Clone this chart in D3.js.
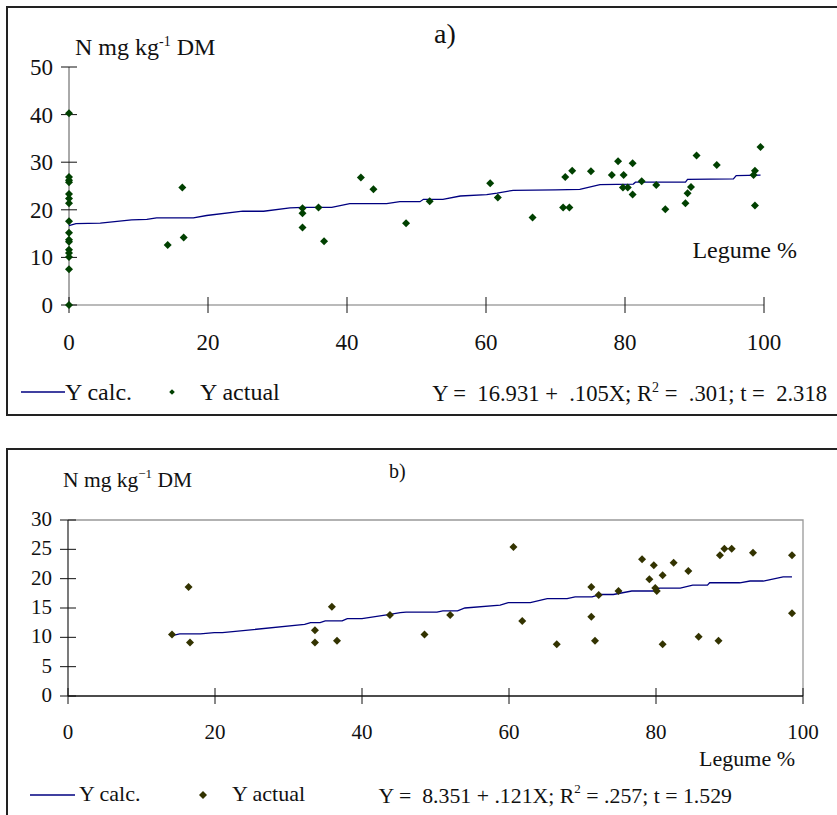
<!DOCTYPE html>
<html>
<head>
<meta charset="utf-8">
<script src="https://cdn.jsdelivr.net/npm/d3@7"></script>
<style>
  body { margin: 0; background: #fff; }
  text { font-family: "Liberation Serif", "Times New Roman", serif; fill: #111; white-space: pre; }
</style>
</head>
<body>
<div id="chart"></div>
<script>
// panel a) data: legume % vs N
const a_x = [0,0,0,0,0,0,0,0,0,0,0,0,0,0,0,0,
  14.2,16.3,16.5,33.6,33.6,33.6,35.9,36.7,42.0,43.8,48.5,51.9,60.6,61.7,66.7,
  71.1,71.4,72.0,72.4,75.1,78.1,79.0,79.7,79.8,80.4,81.1,81.1,82.4,84.5,85.8,
  88.7,89.0,89.5,90.3,93.2,98.5,98.7,98.7,99.5];
const a_y = [40.3,26.9,26.2,25.8,23.3,22.4,21.4,17.6,15.2,13.7,13.3,11.6,10.9,10.1,7.5,0,
  12.6,24.7,14.2,20.3,19.3,16.3,20.5,13.4,26.8,24.3,17.2,21.8,25.6,22.6,18.4,
  20.5,26.9,20.5,28.2,28.1,27.3,30.2,24.7,27.3,24.7,29.8,23.2,26.0,25.2,20.1,
  21.4,23.5,24.8,31.4,29.4,27.3,28.2,20.9,33.2];
const a_calc_x = [0,1,4.5,9,11.2,12.6,17.9,19.8,25,28,31.8,33.7,37.8,40.4,45.7,47.6,50.5,51,53.8,
  56.3,60.1,61.6,63.9,70,73.5,76.4,81.2,81.5,88.7,89,95.6,96,99.5];
const a_calc_y = [16.7,17.1,17.2,17.9,18.0,18.3,18.3,18.8,19.7,19.7,20.4,20.5,20.5,21.3,21.3,21.7,21.7,22.2,22.2,
  22.9,23.2,23.5,24.1,24.2,24.3,25.3,25.4,25.8,25.8,26.4,26.5,27.2,27.3];
const a_yticks = [0,10,20,30,40,50];
const a_xticks = [0,20,40,60,80,100];

// panel b) data
const b_x = [14.15,16.4,16.6,33.6,33.6,35.9,36.6,43.8,48.5,52.0,60.6,61.8,66.5,71.2,71.2,71.7,72.2,74.9,
  78.1,79.1,79.7,79.9,80.1,80.9,80.9,82.4,84.4,85.8,88.5,88.7,89.3,90.3,93.2,98.5,98.5];
const b_y = [10.5,18.6,9.1,11.2,9.1,15.2,9.4,13.8,10.5,13.8,25.4,12.8,8.8,18.6,13.5,9.4,17.2,17.9,
  23.3,19.9,22.3,18.4,17.9,20.6,8.8,22.7,21.3,10.1,9.4,24.0,25.1,25.1,24.4,24.0,14.1];
const b_calc_x = [14.15,15.2,18,19.9,21,32.2,33,34.3,35,37.3,38,40,43.8,45.2,46,50.2,51,53,54,58.8,59.9,62.9,
  65.2,67.9,69,71.3,72.4,74.2,76.7,79.6,80.5,83.3,85,87,87.3,91.4,92.8,94.6,97.3,98.5];
const b_calc_y = [10.3,10.6,10.6,10.8,10.8,12.2,12.5,12.5,12.8,12.8,13.2,13.2,13.9,14.2,14.3,14.3,14.5,14.5,15.0,15.5,15.9,15.9,
  16.6,16.6,16.9,16.9,17.3,17.3,17.9,17.9,18.4,18.4,18.9,18.9,19.3,19.3,19.6,19.6,20.3,20.3];
const b_yticks = [0,5,10,15,20,25,30];
const b_xticks = [0,20,40,60,80,100];

const svg = d3.select("#chart").append("svg")
  .attr("width", 837).attr("height", 815);

const lineColor = "#000080";
const diamond = d3.symbol().type(d3.symbolSquare).size(32);
const diamondSmall = d3.symbol().type(d3.symbolSquare).size(16);

// outer frames
svg.append("rect").attr("x", 7).attr("y", 7).attr("width", 850).attr("height", 408)
  .attr("fill", "none").attr("stroke", "#222").attr("stroke-width", 2);
svg.append("rect").attr("x", 7).attr("y", 449).attr("width", 850).attr("height", 420)
  .attr("fill", "none").attr("stroke", "#222").attr("stroke-width", 2);

// ---------- panel a ----------
const xa = d3.scaleLinear().domain([0, 100]).range([69, 764]);
const ya = d3.scaleLinear().domain([0, 50]).range([305, 67]);
const ga = svg.append("g");

ga.append("line").attr("x1", xa(0)).attr("x2", xa(0)).attr("y1", ya(0)).attr("y2", ya(50))
  .attr("stroke", "#555").attr("stroke-width", 1);
ga.append("line").attr("x1", xa(0)).attr("x2", xa(100)).attr("y1", ya(0)).attr("y2", ya(0))
  .attr("stroke", "#777").attr("stroke-width", 1.2);

ga.selectAll(".yt").data(a_yticks).enter().append("line")
  .attr("x1", xa(0) - 8).attr("x2", xa(0) + 8)
  .attr("y1", d => ya(d)).attr("y2", d => ya(d)).attr("stroke", "#111");
ga.selectAll(".ytl").data(a_yticks).enter().append("text")
  .attr("x", 53).attr("y", d => ya(d) + 8).attr("text-anchor", "end")
  .attr("font-size", 23).text(d => d);
ga.selectAll(".xt").data(a_xticks).enter().append("line")
  .attr("x1", d => xa(d)).attr("x2", d => xa(d))
  .attr("y1", ya(0) - 8).attr("y2", ya(0) + 8).attr("stroke", "#111");
ga.selectAll(".xtl").data(a_xticks).enter().append("text")
  .attr("x", d => xa(d)).attr("y", 350).attr("text-anchor", "middle")
  .attr("font-size", 23).text(d => d);

ga.append("path")
  .datum(a_calc_x.map((d, i) => [d, a_calc_y[i]]))
  .attr("fill", "none").attr("stroke", lineColor).attr("stroke-width", 1.3)
  .attr("d", d3.line().x(d => xa(d[0])).y(d => ya(d[1])));

ga.selectAll(".pt").data(a_x.map((d, i) => [d, a_y[i]])).enter().append("path")
  .attr("d", diamond)
  .attr("transform", d => `translate(${xa(d[0])},${ya(d[1])}) rotate(45)`)
  .attr("fill", "#004000");

let t = ga.append("text").attr("x", 75).attr("y", 55).attr("font-size", 24);
t.append("tspan").text("N mg kg");
t.append("tspan").attr("dy", -9).attr("font-size", 14).text("-1");
t.append("tspan").attr("dy", 9).text(" DM");

ga.append("text").attr("x", 434).attr("y", 43).attr("font-size", 28).text("a)");
ga.append("text").attr("x", 797).attr("y", 258).attr("text-anchor", "end").attr("font-size", 24).text("Legume %");

// legend a
ga.append("line").attr("x1", 21).attr("x2", 65).attr("y1", 392).attr("y2", 392)
  .attr("stroke", lineColor).attr("stroke-width", 1.3);
ga.append("text").attr("x", 65).attr("y", 400).attr("font-size", 24).text("Y calc.");
ga.append("path").attr("d", diamondSmall)
  .attr("transform", "translate(172,392) rotate(45)").attr("fill", "#004000");
ga.append("text").attr("x", 200).attr("y", 400).attr("font-size", 24).text("Y actual");
t = ga.append("text").attr("x", 827).attr("y", 401).attr("font-size", 22.6).attr("text-anchor", "end");
t.append("tspan").text("Y =  16.931 +  .105X; R");
t.append("tspan").attr("dy", -9).attr("font-size", 14).text("2");
t.append("tspan").attr("dy", 9).text(" =  .301; t =  2.318");

// ---------- panel b ----------
const xb = d3.scaleLinear().domain([0, 100]).range([68, 803]);
const yb = d3.scaleLinear().domain([0, 30]).range([696, 520]);
const gb = svg.append("g");

gb.append("polyline")
  .attr("points", `${xb(0)},${yb(30)} ${xb(100)},${yb(30)} ${xb(100)},${yb(0)}`)
  .attr("fill", "none").attr("stroke", "#999").attr("stroke-width", 1.3);
gb.append("line").attr("x1", xb(0)).attr("x2", xb(0)).attr("y1", yb(0)).attr("y2", yb(30))
  .attr("stroke", "#333").attr("stroke-width", 1.3);
gb.append("line").attr("x1", xb(0)).attr("x2", xb(100)).attr("y1", yb(0)).attr("y2", yb(0))
  .attr("stroke", "#111").attr("stroke-width", 1.3);

gb.selectAll(".yt").data(b_yticks).enter().append("line")
  .attr("x1", xb(0) - 8).attr("x2", xb(0) + 8)
  .attr("y1", d => yb(d)).attr("y2", d => yb(d)).attr("stroke", "#111");
gb.selectAll(".ytl").data(b_yticks).enter().append("text")
  .attr("x", 52).attr("y", d => yb(d) + 6).attr("text-anchor", "end")
  .attr("font-size", 21).text(d => d);
gb.selectAll(".xt").data(b_xticks).enter().append("line")
  .attr("x1", d => xb(d)).attr("x2", d => xb(d))
  .attr("y1", yb(0) - 8).attr("y2", yb(0) + 8).attr("stroke", "#111");
gb.selectAll(".xtl").data(b_xticks).enter().append("text")
  .attr("x", d => xb(d)).attr("y", 739).attr("text-anchor", "middle")
  .attr("font-size", 21).text(d => d);

gb.append("path")
  .datum(b_calc_x.map((d, i) => [d, b_calc_y[i]]))
  .attr("fill", "none").attr("stroke", lineColor).attr("stroke-width", 1.3)
  .attr("d", d3.line().x(d => xb(d[0])).y(d => yb(d[1])));

gb.selectAll(".pt").data(b_x.map((d, i) => [d, b_y[i]])).enter().append("path")
  .attr("d", diamond)
  .attr("transform", d => `translate(${xb(d[0])},${yb(d[1])}) rotate(45)`)
  .attr("fill", "#333300");

t = gb.append("text").attr("x", 63).attr("y", 487).attr("font-size", 21.5);
t.append("tspan").text("N mg kg");
t.append("tspan").attr("dy", -9).attr("font-size", 13).text("\u22121");
t.append("tspan").attr("dy", 9).text(" DM");

gb.append("text").attr("x", 389).attr("y", 478).attr("font-size", 20).text("b)");
gb.append("text").attr("x", 795).attr("y", 766).attr("text-anchor", "end").attr("font-size", 22).text("Legume %");

// legend b
gb.append("line").attr("x1", 30).attr("x2", 75).attr("y1", 795).attr("y2", 795)
  .attr("stroke", lineColor).attr("stroke-width", 1.3);
gb.append("text").attr("x", 79).attr("y", 801).attr("font-size", 22).text("Y calc.");
gb.append("path").attr("d", diamond)
  .attr("transform", "translate(203,795) rotate(45)").attr("fill", "#333300");
gb.append("text").attr("x", 232).attr("y", 801).attr("font-size", 22).text("Y actual");
t = gb.append("text").attr("x", 732).attr("y", 803).attr("font-size", 21.8).attr("text-anchor", "end");
t.append("tspan").text("Y =  8.351 + .121X; R");
t.append("tspan").attr("dy", -10).attr("font-size", 13).text("2");
t.append("tspan").attr("dy", 10).text(" = .257; t = 1.529");
</script>
</body>
</html>
